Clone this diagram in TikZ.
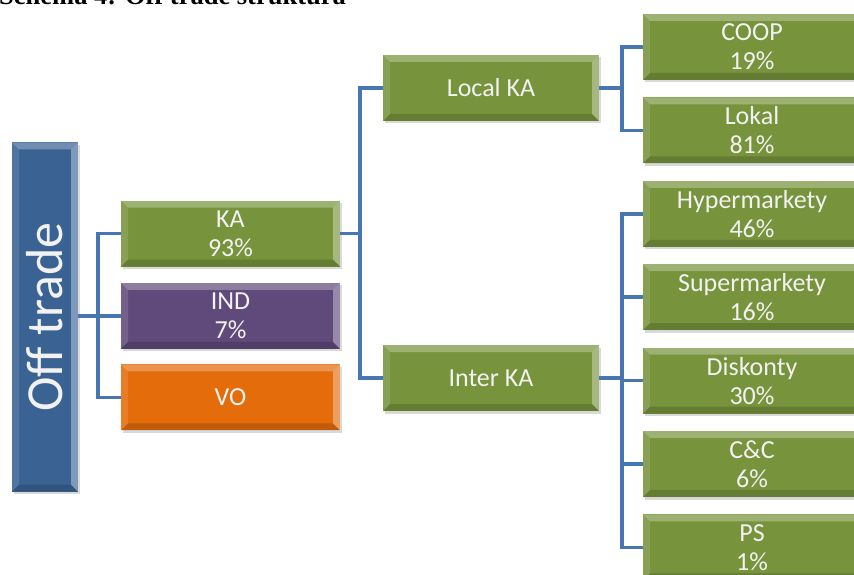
\documentclass[tikz,border=0pt]{standalone}
\usepackage{fontspec}
\newfontfamily\boxfont{Carlito}
\newfontfamily\titlefont{Liberation Serif}
\usetikzlibrary{positioning, shadows}

\definecolor{otblue}{RGB}{58,99,148}
\definecolor{kagreen}{RGB}{119,147,60}
\definecolor{indpurple}{RGB}{96,74,123}
\definecolor{voorange}{RGB}{228,108,10}
\definecolor{connblue}{RGB}{72,118,178}
\definecolor{boxtext}{RGB}{242,242,242}

\begin{document}
\begin{tikzpicture}[
    x=1pt, y=1pt,
    bevel/.style={path picture={
        \fill[white, opacity=0.28] (path picture bounding box.north west) -- (path picture bounding box.north east) -- ([shift={(-7pt,-7pt)}]path picture bounding box.north east) -- ([shift={(7pt,-7pt)}]path picture bounding box.north west) -- cycle;
        \fill[white, opacity=0.12] (path picture bounding box.north west) -- ([shift={(7pt,-7pt)}]path picture bounding box.north west) -- ([shift={(7pt,7pt)}]path picture bounding box.south west) -- (path picture bounding box.south west) -- cycle;
        \fill[black, opacity=0.15] (path picture bounding box.south west) -- (path picture bounding box.south east) -- ([shift={(-7pt,7pt)}]path picture bounding box.south east) -- ([shift={(7pt,7pt)}]path picture bounding box.south west) -- cycle;
        \fill[white, opacity=0.35] (path picture bounding box.north east) -- ([shift={(-7pt,-7pt)}]path picture bounding box.north east) -- ([shift={(-7pt,7pt)}]path picture bounding box.south east) -- (path picture bounding box.south east) -- cycle;
    }},
    tree/.style={rectangle, text=boxtext, font=\boxfont\fontsize{26}{29}\selectfont, align=center, inner sep=0pt, minimum height=66pt, drop shadow={shadow xshift=2pt, shadow yshift=-2.5pt, opacity=0.3}, bevel},
    leaf/.style={tree, fill=kagreen, minimum width=218pt},
    conn/.style={draw=connblue, line width=3.5pt}
]
\path[use as bounding box] (0,0) rectangle (854,-575);
\clip (0,0) rectangle (854,-575);

% Titel
\node[anchor=base west, inner sep=0pt, font=\titlefont\bfseries\fontsize{26.5}{30}\selectfont] (title) at (-1,-5) {Schema 4: Off trade struktura};

% Uzly
\node[tree, fill=otblue, minimum width=66pt, minimum height=349pt, font=\boxfont\fontsize{52}{52}\selectfont] (ot) at (45,-317) {\rotatebox{90}{Off trade}};
\node[tree, fill=kagreen, minimum width=219pt] (ka) at (230.5,-233.5) {KA\\93\%};
\node[tree, fill=indpurple, minimum width=219pt, below=16pt of ka] (ind) {IND\\7\%};
\node[tree, fill=voorange, minimum width=219pt, below=15pt of ind] (vo) {VO};
\node[tree, fill=kagreen, minimum width=216pt] (lka) at (491,-88) {Local KA};
\node[tree, fill=kagreen, minimum width=216pt] (ika) at (491,-378) {Inter KA};
\node[leaf] (coop) at (752,-47) {COOP\\19\%};
\node[leaf, below=17pt of coop] (lokal) {Lokal\\81\%};
\node[leaf, below=17pt of lokal] (hyper) {Hypermarkety\\46\%};
\node[leaf, below=17pt of hyper] (super) {Supermarkety\\16\%};
\node[leaf, below=17pt of super] (disk) {Diskonty\\30\%};
\node[leaf, below=17pt of disk] (cc) {C\&C\\6\%};
\node[leaf, below=17pt of cc] (ps) {PS\\1\%};

% Spojnice
\draw[conn] (ot.east |- ind.west) -- (ind.west);
\draw[conn] (ka.west) -- ++(-23,0) |- (vo.west);
\draw[conn] (ka.east) -- ++(20,0);
\draw[conn] (lka.west) -- ++(-23,0) |- (ika.west);
\draw[conn] (lka.east) -- ++(23,0);
\draw[conn] (coop.west) -- ++(-21,0) |- (lokal.west);
\draw[conn] (ika.east) -- ++(23,0);
\draw[conn] (hyper.west) -- ++(-21,0) |- (ps.west);
\foreach \n in {super, disk, cc}
    \draw[conn] (\n.west) -- ++(-21,0);

\end{tikzpicture}
\end{document}
